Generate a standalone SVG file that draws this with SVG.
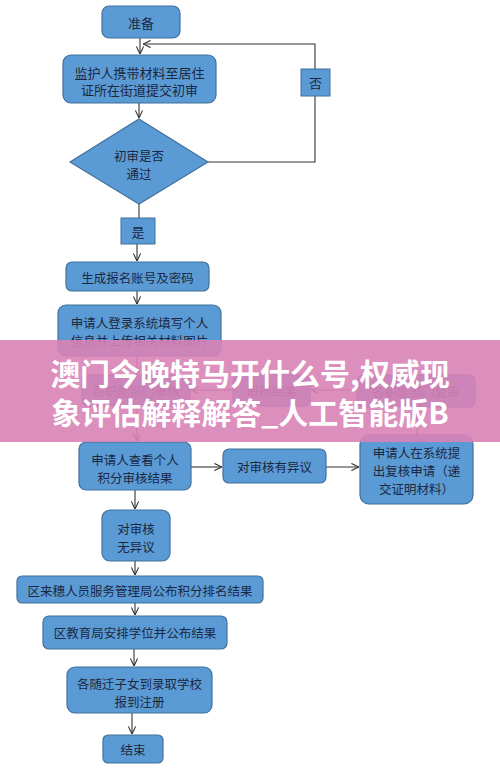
<svg xmlns="http://www.w3.org/2000/svg" width="500" height="782" viewBox="0 0 500 782">
<defs>
<marker id="arr" viewBox="0 0 10 10" refX="9.5" refY="5" markerWidth="8" markerHeight="8" markerUnits="userSpaceOnUse" orient="auto">
<path d="M0,0.5 L9.5,5 L0,9.5" fill="none" stroke="#333" stroke-width="1.4"/>
</marker>
<style>
.box{fill:#5b9bd5;stroke:#41719c;stroke-width:1.2}
.lbl{fill:#5b9bd5;stroke:#41719c;stroke-width:1}
.t{font-family:"Noto Sans CJK SC","Liberation Sans",sans-serif;font-size:12.5px;fill:#1c2740;text-anchor:middle;dominant-baseline:central}
.c{fill:none;stroke:#333;stroke-width:1.1}
.banner{font-family:"Noto Sans CJK SC","Liberation Sans",sans-serif;font-size:30px;font-weight:bold;fill:#ffffff;text-anchor:middle;dominant-baseline:central}
</style>
</defs>
<rect width="500" height="782" fill="#ffffff"/>

<g id="connectors">
<line class="c" x1="140" y1="38" x2="140" y2="54" marker-end="url(#arr)"/>
<polyline class="c" points="208,162 315,162 315,44 143,44" marker-end="url(#arr)"/>
<line class="c" x1="139" y1="103" x2="139" y2="118" marker-end="url(#arr)"/>
<line class="c" x1="139" y1="204" x2="139" y2="218"/>
<line class="c" x1="137" y1="244" x2="137" y2="261" marker-end="url(#arr)"/>
<line class="c" x1="137" y1="291" x2="137" y2="304" marker-end="url(#arr)"/>
<line class="c" x1="137" y1="356" x2="137" y2="374" marker-end="url(#arr)"/>
<line class="c" x1="357" y1="390" x2="311" y2="390" marker-end="url(#arr)"/>
<line class="c" x1="233" y1="390" x2="191" y2="390" marker-end="url(#arr)"/>
<line class="c" x1="417" y1="435" x2="417" y2="408" marker-end="url(#arr)"/>
<line class="c" x1="137" y1="406" x2="137" y2="441" marker-end="url(#arr)"/>
<line class="c" x1="191" y1="467" x2="222" y2="467" marker-end="url(#arr)"/>
<line class="c" x1="326" y1="467" x2="359" y2="467" marker-end="url(#arr)"/>
<line class="c" x1="135" y1="490" x2="135" y2="509" marker-end="url(#arr)"/>
<line class="c" x1="135" y1="561" x2="135" y2="575" marker-end="url(#arr)"/>
<line class="c" x1="135" y1="603" x2="135" y2="615" marker-end="url(#arr)"/>
<line class="c" x1="134" y1="649" x2="134" y2="666" marker-end="url(#arr)"/>
<line class="c" x1="132" y1="713" x2="132" y2="734" marker-end="url(#arr)"/>
</g>

<g id="n-start"><rect class="box" x="102" y="6" width="78" height="32" rx="7"/><text class="t" x="141" y="22" style="font-size:13px">准备</text></g>
<g id="n-submit"><rect class="box" x="63" y="55" width="153" height="48" rx="8"/><text class="t" x="139.5" y="72" style="font-size:13px">监护人携带材料至居住</text><text class="t" x="139.5" y="89" style="font-size:13px">证所在街道提交初审</text></g>
<g id="n-decision"><polygon class="box" points="139,119 208,162 139,204 70,162"/><text class="t" x="139" y="155">初审是否</text><text class="t" x="139" y="173">通过</text></g>
<g id="l-no"><rect class="lbl" x="301" y="69" width="29" height="27"/><text class="t" x="315.5" y="82.5" style="font-size:13px">否</text></g>
<g id="l-yes"><rect class="lbl" x="121" y="218" width="34" height="26"/><text class="t" x="138" y="231" style="font-size:13px">是</text></g>
<g id="n-account"><rect class="box" x="66" y="262" width="143" height="29" rx="6"/><text class="t" x="137.5" y="277">生成报名账号及密码</text></g>
<g id="n-login"><rect class="box" x="58" y="305" width="163" height="51" rx="8"/><text class="t" x="139.5" y="322">申请人登录系统填写个人</text><text class="t" x="139.5" y="340">信息并上传相关材料图片</text></g>
<g id="n-dept"><rect class="box" x="82" y="375" width="108" height="31" rx="6"/><text class="t" x="136" y="390.5">各职能部门审核</text></g>
<g id="n-result"><rect class="box" x="233" y="375" width="77" height="31" rx="6"/><text class="t" x="271.5" y="390.5">审核结果</text></g>
<g id="n-recheck"><rect class="box" x="357" y="375" width="118" height="32" rx="6"/><text class="t" x="416" y="391">各职能部门复审</text></g>
<g id="n-view"><rect class="box" x="79" y="442" width="112" height="48" rx="7"/><text class="t" x="135" y="459">申请人查看个人</text><text class="t" x="135" y="477">积分审核结果</text></g>
<g id="n-object"><rect class="box" x="223" y="449" width="103" height="34" rx="6"/><text class="t" x="274.5" y="466">对审核有异议</text></g>
<g id="n-apply"><rect class="box" x="360" y="435" width="113" height="69" rx="9"/><text class="t" x="416.5" y="452">申请人在系统提</text><text class="t" x="416.5" y="470">出复核申请（递</text><text class="t" x="416.5" y="488">交证明材料）</text></g>
<g id="n-noobj"><rect class="box" x="102" y="510" width="68" height="51" rx="8"/><text class="t" x="136" y="528">对审核</text><text class="t" x="136" y="546">无异议</text></g>
<g id="n-rank"><rect class="box" x="17" y="576" width="246" height="27" rx="5"/><text class="t" x="140" y="590">区来穗人员服务管理局公布积分排名结果</text></g>
<g id="n-edu"><rect class="box" x="43" y="616" width="184" height="33" rx="6"/><text class="t" x="135" y="632.5">区教育局安排学位并公布结果</text></g>
<g id="n-enroll"><rect class="box" x="67" y="667" width="145" height="46" rx="8"/><text class="t" x="139.5" y="683">各随迁子女到录取学校</text><text class="t" x="139.5" y="701">报到注册</text></g>
<g id="n-end"><rect class="box" x="103" y="735" width="60" height="28" rx="5"/><text class="t" x="133" y="749">结束</text></g>

<g id="banner">
<rect x="0" y="340" width="500" height="102" fill="#d882b6" fill-opacity="0.9"/>
<text class="banner" x="250" y="372">澳门今晚特马开什么号,权威现</text>
<text class="banner" x="250" y="411">象评估解释解答_人工智能版B</text>
</g>
</svg>
